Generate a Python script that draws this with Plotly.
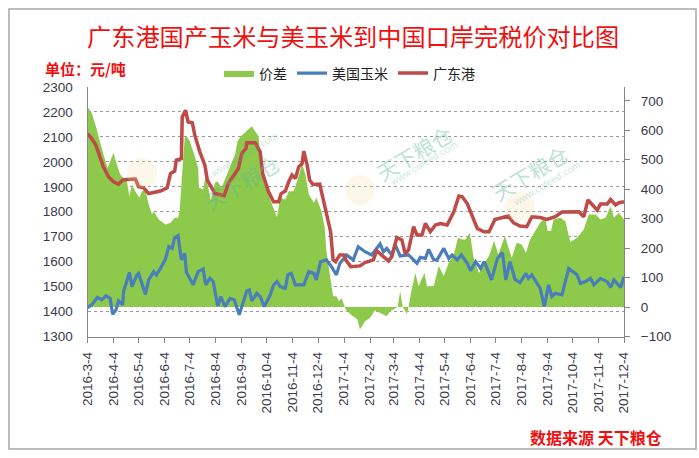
import pandas as pd
import plotly.graph_objects as go

START = "2016-03-04"

tick_labels = ["2016-3-4","2016-4-4","2016-5-4","2016-6-4","2016-7-4","2016-8-4","2016-9-4","2016-10-4","2016-11-4","2016-12-4",
               "2017-1-4","2017-2-4","2017-3-4","2017-4-4","2017-5-4","2017-6-4","2017-7-4","2017-8-4","2017-9-4","2017-10-4","2017-11-4","2017-12-4"]

gd_days = [0,5,10,15,19,25,31,37,42,47,57,61,67,73,79,87,95,99,104,106,112,113,117,120,125,128,134,140,143,150,
           152,163,168,180,184,189,190,200,206,209,216,222,228,231,236,240,244,248,252,256,258,262,265,269,277,281,285,290,293,296,301,306,
           308,314,325,331,341,345,353,359,363,369,375,379,383,389,393,399,403,409,415,421,429,437,443,447,453,459,465,473,
           475,479,486,494,502,508,516,524,530,540,548,558,566,586,592,597,602,608,612,620,624,630,634,640]
gd_vals = [2113,2093,2067,2020,1980,1940,1920,1911,1927,1929,1931,1900,1896,1873,1877,1883,1896,1953,1963,2007,2013,2180,2207,2160,2157,2107,2040,1987,1927,1880,
           1873,1864,1913,1973,2033,2053,2077,2077,2040,1953,1880,1840,1840,1873,1883,1920,1947,1933,1980,1993,2043,1987,1927,1909,1911,1853,1800,1720,1607,1600,1627,1627,
           1607,1580,1583,1596,1607,1644,1620,1603,1620,1697,1687,1631,1647,1740,1707,1707,1753,1720,1747,1753,1747,1800,1863,1860,1833,1780,1733,1720,
           1720,1720,1769,1777,1783,1756,1743,1740,1780,1777,1769,1780,1799,1800,1780,1847,1831,1807,1831,1831,1849,1827,1836,1840]

us_days = [0,5,12,17,22,27,30,34,37,42,43,47,50,53,59,61,69,73,79,82,87,93,97,101,104,108,112,116,118,126,132,138,141,146,150,155,
           156,159,164,170,175,181,186,190,193,196,202,206,211,218,222,226,230,236,239,243,248,252,258,264,270,273,278,285,291,297,301,309,
           317,323,331,339,349,353,357,363,367,373,383,389,393,397,403,407,413,417,425,431,435,441,446,453,457,463,469,473,
           475,482,489,495,499,504,510,516,523,526,530,540,545,550,554,558,566,574,584,588,594,600,604,612,620,624,628,636,640]
us_vals = [1416,1427,1457,1447,1463,1453,1389,1407,1443,1427,1480,1520,1557,1500,1547,1553,1469,1527,1560,1547,1573,1611,1660,1653,1696,1704,1607,1633,1557,1507,1560,1571,1507,1533,1520,1427,
           1427,1460,1420,1453,1447,1387,1440,1483,1487,1443,1473,1460,1420,1467,1507,1520,1500,1493,1547,1553,1507,1507,1507,1560,1553,1527,1600,1607,1580,1547,1593,1627,
           1607,1660,1640,1627,1671,1640,1653,1627,1667,1623,1627,1607,1593,1617,1613,1649,1607,1607,1653,1613,1627,1607,1627,1593,1564,1600,1573,1600,
           1587,1527,1613,1636,1527,1600,1529,1516,1553,1533,1547,1493,1420,1507,1460,1473,1467,1573,1547,1513,1520,1533,1507,1533,1520,1497,1527,1497,1540]

spread_days = [0,5,10,13,19,24,31,35,39,47,50,53,57,62,65,69,73,77,79,85,93,99,104,108,110,112,116,118,122,126,132,133,138,141,147,152,
               155,160,168,176,179,183,196,204,208,212,218,226,230,236,240,246,250,256,260,264,270,273,279,283,285,289,293,297,300,303,307,
               308,314,322,325,331,337,343,349,357,361,367,370,373,376,381,383,386,391,395,402,405,413,419,425,431,437,442,447,451,456,461,467,473,
               475,479,485,490,498,506,512,518,523,528,534,540,546,549,553,556,564,570,576,584,592,598,606,612,618,624,628,634,640]
spread_vals = [680,659,614,580,518,472,524,484,450,427,376,416,393,371,393,399,348,314,325,297,280,286,303,303,325,416,575,580,563,529,472,405,399,450,362,422,
               427,405,461,518,563,580,614,580,461,416,365,305,371,365,393,393,427,484,450,382,354,371,326,269,190,110,37,37,20,31,0,
               -8,-25,-42,-76,-48,-37,-11,-20,-31,-14,-3,0,54,0,-23,0,48,116,71,116,71,71,139,105,150,178,235,229,229,252,161,116,144,
               156,173,224,178,241,167,218,212,184,229,258,286,303,258,258,297,303,291,221,235,263,314,314,297,303,342,303,320,297]

def dates(days):
    return pd.Timestamp(START) + pd.to_timedelta(days, unit="D")

W, H = 699, 458
L, R, T, B = 87.5, 624.0, 87.0, 336.5
TICKFONT = dict(family="Liberation Sans", size=13.5, color="#3a3a4a")

fig = go.Figure()
fig.add_trace(go.Scatter(x=dates(spread_days), y=spread_vals, name="价差", mode="lines", fill="tozeroy",
                         fillcolor="#8DC94A", line=dict(width=0, color="#8DC94A"), yaxis="y"))
fig.add_trace(go.Scatter(x=dates(us_days), y=us_vals, name="美国玉米", mode="lines",
                         line=dict(width=3.2, color="#4A7EBB"), yaxis="y2"))
fig.add_trace(go.Scatter(x=dates(gd_days), y=gd_vals, name="广东港", mode="lines",
                         line=dict(width=3.5, color="#BE4B48"), yaxis="y2"))

def px(x): return x / W
def py(y): return 1 - y / H

annotations = [
    dict(x=352.5/W, y=py(35.5), text="广东港国产玉米与美玉米到中国口岸完税价对比图", showarrow=False, xanchor="center", yanchor="middle",
         font=dict(family="Noto Sans CJK SC", size=24.2, color="#EE1111")),
    dict(x=43/W, y=py(69), text="<b>单位：元/吨</b>", showarrow=False, xanchor="left", yanchor="middle",
         font=dict(family="Noto Sans CJK SC", size=15, color="#EE1111")),
    dict(x=664/W, y=py(437), text="<b>数据来源 天下粮仓</b>", showarrow=False, xanchor="right", yanchor="middle",
         font=dict(family="Noto Sans CJK SC", size=16, color="#EE1111")),
]
shapes = [dict(type="rect", xref="paper", yref="paper", x0=9/W, x1=696/W, y0=py(449), y1=py(9),
               line=dict(color="#A6A6A6", width=1.5), layer="below")]

# faint site watermarks
for (lx, ly, tx, ty, wx, wy) in [(142, 173, 196, 145, 206, 155), (360, 190, 414, 153, 423, 163), (520, 207, 576, 173, 585, 183)]:
    shapes.append(dict(type="circle", xref="paper", yref="paper", x0=(lx-15)/W, x1=(lx+15)/W, y0=py(ly+15), y1=py(ly-15),
                       fillcolor="#F6DC9A", opacity=0.22, line=dict(width=0), layer="above"))
    annotations.append(dict(x=tx/W, y=py(ty), text="天下粮仓", showarrow=False, textangle=-31, opacity=0.4,
                            font=dict(family="Noto Sans CJK SC", size=21, color="#5FB79A")))
    annotations.append(dict(x=wx/W, y=py(wy), text="www.cofeed.com", showarrow=False, textangle=-31, opacity=0.3,
                            font=dict(family="Liberation Sans", size=10, color="#5FB79A")))

for a in annotations:
    a.update(xref="paper", yref="paper")

fig.update_layout(
    width=W, height=H, margin=dict(l=0, r=0, t=0, b=0, autoexpand=False), paper_bgcolor="white", plot_bgcolor="white",
    font=dict(family="Noto Sans CJK SC", size=14, color="#222222"),
    annotations=annotations, shapes=shapes,
    legend=dict(orientation="h", x=349.5/W, xanchor="center", y=py(57.5), yanchor="top",
                font=dict(family="Noto Sans CJK SC", size=14, color="#222222"),
                bgcolor="rgba(0,0,0,0)", itemwidth=30, tracegroupgap=0),
    xaxis=dict(type="date", domain=[px(L), px(R)], range=[dates(0), dates(640)],
               tickmode="array", tickvals=[pd.Timestamp(s) for s in tick_labels], ticktext=tick_labels,
               tickangle=-90, ticks="outside", ticklen=5, tickcolor="#868686", showgrid=False,
               showline=True, linecolor="#868686", linewidth=1.2, tickfont=TICKFONT, ticklabelstandoff=4, anchor="y"),
    # the area sits on the underlying axis so both lines draw over it
    yaxis=dict(domain=[py(B), py(T)], range=[-100, 747], side="right", tickmode="array",
               tickvals=[-100,0,100,200,300,400,500,600,700], ticks="outside", ticklen=5, tickcolor="#868686",
               showgrid=False, zeroline=False, showline=True, linecolor="#868686", linewidth=1.2,
               tickfont=TICKFONT, ticklabelstandoff=8, anchor="x"),
    yaxis2=dict(domain=[py(B), py(T)], range=[1300, 2300], overlaying="y", side="left", tickmode="array",
                tickvals=list(range(1300, 2301, 100)), ticks="", showgrid=True, gridcolor="#9A9A9A", griddash="dot",
                gridwidth=1, zeroline=False, showline=True, linecolor="#868686", linewidth=1.2,
                tickfont=TICKFONT, ticklabelstandoff=11, anchor="x"),
)

fig.write_html("out.html", config=dict(displayModeBar=False),
               post_script="document.body.style.margin='0';document.body.style.overflow='hidden';")
